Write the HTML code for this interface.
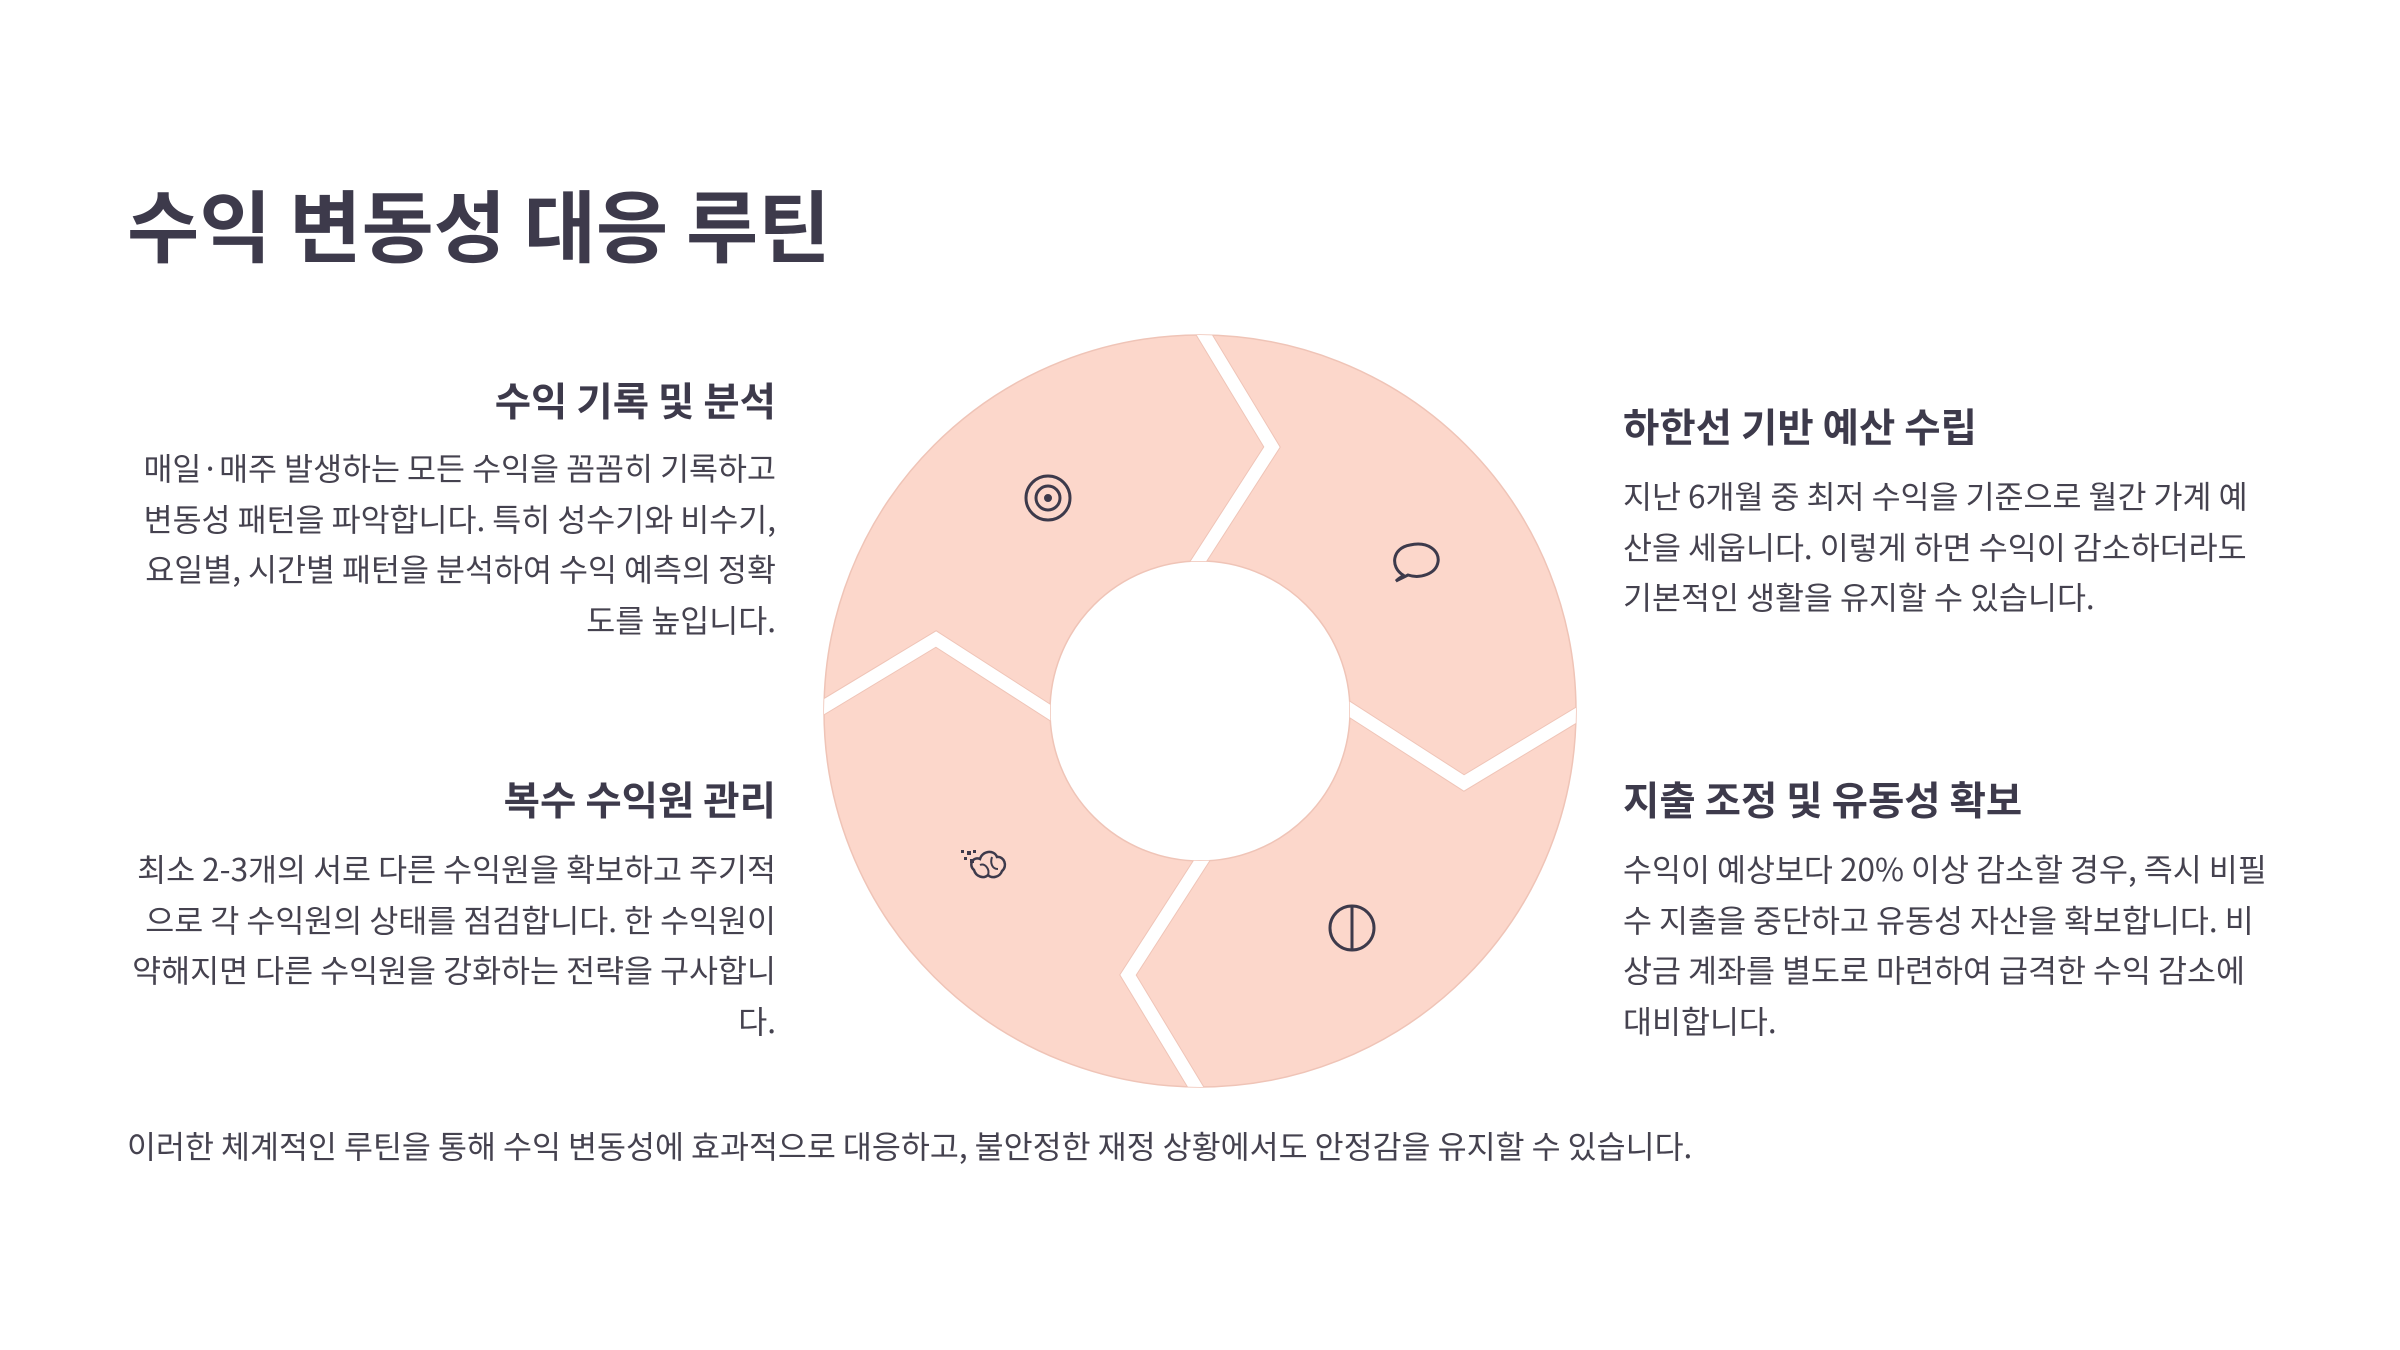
<!DOCTYPE html>
<html><head><meta charset="utf-8">
<style>
html,body{margin:0;padding:0;background:#fff;}
body{width:2400px;height:1350px;position:relative;overflow:hidden;font-family:"Liberation Sans","Noto Sans CJK KR",sans-serif;color:#3d3a4b;}
.t{position:absolute;white-space:nowrap;}
.title{left:127px;top:170px;font-size:78.5px;font-weight:bold;line-height:104px;font-family:"Noto Sans CJK KR",sans-serif;}
.h{font-size:39.5px;font-weight:bold;line-height:50px;font-family:"Noto Sans CJK KR",sans-serif;}
.b{font-size:31.5px;line-height:50.5px;color:#45424f;font-family:"Noto Sans CJK KR",sans-serif;}
.r{text-align:right;}
</style></head><body>
<div class="t title">수익 변동성 대응 루틴</div>

<div class="t h r" style="right:1624px;top:375px;">수익 기록 및 분석</div>
<div class="t b r" style="right:1624px;top:442px;">매일·매주 발생하는 모든 수익을 꼼꼼히 기록하고<br>변동성 패턴을 파악합니다. 특히 성수기와 비수기,<br>요일별, 시간별 패턴을 분석하여 수익 예측의 정확<br>도를 높입니다.</div>

<div class="t h r" style="right:1624px;top:774px;">복수 수익원 관리</div>
<div class="t b r" style="right:1624px;top:843px;">최소 2-3개의 서로 다른 수익원을 확보하고 주기적<br>으로 각 수익원의 상태를 점검합니다. 한 수익원이<br>약해지면 다른 수익원을 강화하는 전략을 구사합니<br>다.</div>

<div class="t h" style="left:1623px;top:401px;">하한선 기반 예산 수립</div>
<div class="t b" style="left:1623px;top:470px;">지난 6개월 중 최저 수익을 기준으로 월간 가계 예<br>산을 세웁니다. 이렇게 하면 수익이 감소하더라도<br>기본적인 생활을 유지할 수 있습니다.</div>

<div class="t h" style="left:1623px;top:774px;">지출 조정 및 유동성 확보</div>
<div class="t b" style="left:1623px;top:843px;">수익이 예상보다 20% 이상 감소할 경우, 즉시 비필<br>수 지출을 중단하고 유동성 자산을 확보합니다. 비<br>상금 계좌를 별도로 마련하여 급격한 수익 감소에<br>대비합니다.</div>

<div class="t b" style="left:127px;top:1120px;">이러한 체계적인 루틴을 통해 수익 변동성에 효과적으로 대응하고, 불안정한 재정 상황에서도 안정감을 유지할 수 있습니다.</div>

<svg width="2400" height="1350" style="position:absolute;left:0;top:0">
<defs>
<clipPath id="ann"><path clip-rule="evenodd" d="M824,711 a376,376 0 1,0 752,0 a376,376 0 1,0 -752,0 Z M1050,711 a150,150 0 1,0 300,0 a150,150 0 1,0 -300,0 Z"/></clipPath>
</defs>
<path fill-rule="evenodd" fill="#fcd7cb" stroke="#efc4b7" stroke-width="1.5" d="M824,711 a376,376 0 1,0 752,0 a376,376 0 1,0 -752,0 Z M1050,711 a150,150 0 1,0 300,0 a150,150 0 1,0 -300,0 Z"/>
<g clip-path="url(#ann)" fill="none" stroke-linejoin="miter" stroke-miterlimit="10">
<g stroke="#efc4b7" stroke-width="15">
<polyline points="1185,303 1272,447 1178,593"/>
<polyline points="1608,696 1464,783 1318,689"/>
<polyline points="1215,1119 1128,975 1222,829"/>
<polyline points="792,726 936,639 1082,733"/>
</g>
<g stroke="#fff" stroke-width="13">
<polyline points="1185,303 1272,447 1178,593"/>
<polyline points="1608,696 1464,783 1318,689"/>
<polyline points="1215,1119 1128,975 1222,829"/>
<polyline points="792,726 936,639 1082,733"/>
</g>
</g>
<g fill="none" stroke="#3d3a4b" stroke-width="3">
<circle cx="1048" cy="498" r="22"/>
<circle cx="1048" cy="498" r="12"/>
<circle cx="1048" cy="498" r="2.5" fill="#3d3a4b"/>
<path d="M1403,575 C1390,567 1392,548 1410,545 C1428,541 1440,551 1438,562 C1436,574 1420,579 1408,575 L1396,581 C1399,578 1402,577 1403,575 Z"/>
<circle cx="1352" cy="928" r="22"/>
<line x1="1352" y1="906" x2="1352" y2="950"/>
<path d="M974,870 C968,865 973,856 980,859 C982,851 994,849 997,857 C1004,856 1008,866 1002,871 C1000,877 992,879 988,875 C984,879 976,877 974,870 Z" stroke-width="2.5"/>
<path d="M980,865 C985,863 990,869 988,875 M992,857 C990,863 992,869 998,869" stroke-width="2"/>
</g>
<g fill="#3d3a4b">
<rect x="961" y="850" width="3" height="3"/><rect x="967" y="851" width="4" height="4"/><rect x="973" y="850" width="3" height="3"/>
<rect x="964" y="857" width="3" height="3"/><rect x="970" y="859" width="4" height="4"/>
</g>
</svg>
</body></html>
